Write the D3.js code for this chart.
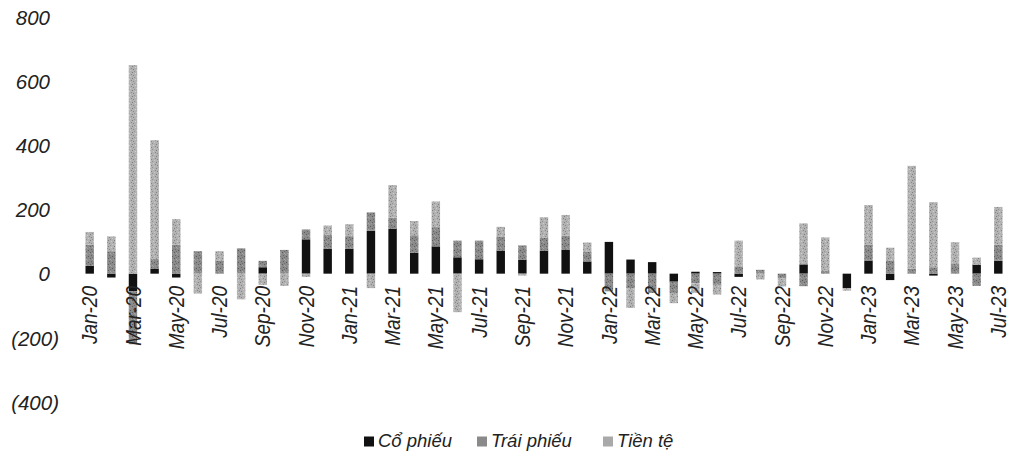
<!DOCTYPE html>
<html>
<head>
<meta charset="utf-8">
<script src="https://cdn.jsdelivr.net/npm/d3@7"></script>
<style>
  html, body { margin: 0; padding: 0; background: #ffffff; }
  svg { display: block; }
  text { font-family: "Liberation Sans", Arial, sans-serif; font-style: italic; fill: #222; }
</style>
</head>
<body>
<svg id="chart" width="1011" height="462"></svg>
<script>
// ---- data ----
const months = ["Jan-20","Feb-20","Mar-20","Apr-20","May-20","Jun-20","Jul-20","Aug-20","Sep-20","Oct-20","Nov-20","Dec-20",
  "Jan-21","Feb-21","Mar-21","Apr-21","May-21","Jun-21","Jul-21","Aug-21","Sep-21","Oct-21","Nov-21","Dec-21",
  "Jan-22","Feb-22","Mar-22","Apr-22","May-22","Jun-22","Jul-22","Aug-22","Sep-22","Oct-22","Nov-22","Dec-22",
  "Jan-23","Feb-23","Mar-23","Apr-23","May-23","Jun-23","Jul-23"];
const coPhieu  = [24,-12,-55,16,-12,0,0,0,20,0,107,77, 77,134,140,65,85,51,45,71,44,72,74,38, 99,44,36,-25,6,5,-10,0,0,29,0,-45, 41,-20,0,-6,0,28,40];
const traiPhieu= [66,70,-165,30,90,70,40,79,20,74,31,45, 40,57,35,55,60,52,58,45,44,40,45,30, -55,-45,-60,-35,-30,-35,23,12,-15,-39,10,0, 50,40,15,20,30,-38,50];
const tienTe   = [40,46,650,370,80,-62,30,-80,-35,-38,-10,28, 37,-45,101,44,80,-120,0,30,-6,64,64,29, 0,-62,0,-32,-30,-30,80,-18,-25,128,103,-8, 123,41,321,203,68,22,118];
const seriesNames = ["Cổ phiếu","Trái phiếu","Tiền tệ"];
const yTicks = [800,600,400,200,0,-200,-400];

// ---- layout ----
const svg = d3.select("#chart");
const defs = svg.append("defs");

function makePattern(id, base, specks, size) {
  const p = defs.append("pattern").attr("id", id).attr("patternUnits","userSpaceOnUse")
    .attr("width", size).attr("height", size);
  p.append("rect").attr("width", size).attr("height", size).attr("fill", base);
  specks.forEach(s => p.append("rect").attr("x", s[0]).attr("y", s[1]).attr("width", 1).attr("height", 1).attr("fill", s[2]));
}
makePattern("patTP", "#8a8a8a", [[0,0,"#5e5e5e"],[2,1,"#a8a8a8"],[1,3,"#666"],[3,2,"#a0a0a0"],[4,4,"#5a5a5a"],[5,1,"#9a9a9a"],[2,5,"#6e6e6e"]], 6);
makePattern("patTT", "#b2b2b2", [[0,0,"#7e7e7e"],[3,1,"#cfcfcf"],[1,3,"#858585"],[4,4,"#c8c8c8"],[5,2,"#888"],[2,5,"#929292"]], 6);
const fills = ["#111111", "url(#patTP)", "url(#patTT)"];
const legendFills = ["#111111", "#8a8a8a", "#a9a9a9"];

const y = d3.scaleLinear().domain([-400, 800]).range([402, 17]);
const x = d3.scaleBand().domain(months).range([79, 1009]).paddingInner(0.61).paddingOuter(0.3);

// stacked data
const rows = months.map((m, i) => ({ month: m, a: coPhieu[i], b: traiPhieu[i], c: tienTe[i] }));
const stack = d3.stack().keys(["a","b","c"]).offset(d3.stackOffsetDiverging);
const stacked = stack(rows);

svg.append("g").selectAll("g").data(stacked).join("g")
  .attr("fill", (d, i) => fills[i])
  .selectAll("rect").data(d => d).join("rect")
  .attr("x", d => x(d.data.month))
  .attr("width", x.bandwidth())
  .attr("y", d => y(Math.max(d[0], d[1])))
  .attr("height", d => Math.abs(y(d[0]) - y(d[1])));

// x axis labels, every other month, rotated (on top of the bars, as in the reference)
const xLabels = months.filter((m, i) => i % 2 === 0);
const xAxis = d3.axisBottom(x).tickValues(xLabels).tickSize(0);
const gx = svg.append("g").attr("transform", "translate(0,286)").call(xAxis);
gx.select(".domain").remove();
gx.selectAll("text")
  .attr("transform", "rotate(-90) scale(1,1.12)")
  .attr("text-anchor", "end")
  .attr("x", 0).attr("y", 0).attr("dy", "0.36em")
  .style("font-size", "19px")
  .style("font-family", "'Liberation Sans', Arial, sans-serif")
  .style("font-style", "italic")
  .attr("fill", "#222");

// y axis labels (accounting format)
const yAxis = d3.axisLeft(y).tickValues(yTicks).tickSize(0)
  .tickFormat(v => v < 0 ? "(" + Math.abs(v) + ")" : String(v));
const gy = svg.append("g").attr("transform", "translate(59,0)").call(yAxis);
gy.select(".domain").remove();
gy.selectAll("text")
  .attr("x", d => d < 0 ? 0 : -9)
  .attr("dy", "0.35em")
  .style("font-size", "20.5px")
  .style("font-family", "'Liberation Sans', Arial, sans-serif")
  .style("font-style", "italic")
  .attr("fill", "#222");

// legend
const legendX = [364, 477, 603];
const lg = svg.append("g");
seriesNames.forEach((name, i) => {
  lg.append("rect").attr("x", legendX[i]).attr("y", 436.5).attr("width", 10).attr("height", 10).attr("fill", legendFills[i]);
  lg.append("text").attr("x", legendX[i] + 14).attr("y", 447)
    .style("font-size", "18.5px").text(name);
});
</script>
</body>
</html>
